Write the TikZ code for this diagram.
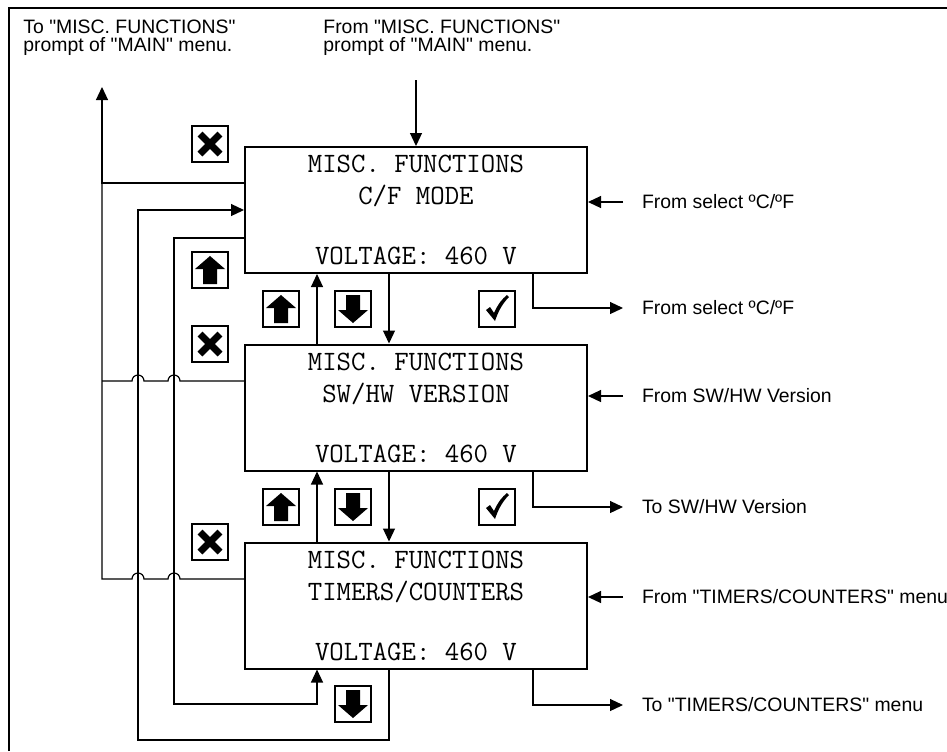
\documentclass[tikz,border=0pt]{standalone}
\usepackage{fontspec}
\setmainfont{Liberation Sans}[Ligatures=TeXOff]
\usetikzlibrary{arrows.meta}

\tikzset{
  screen/.style={draw, line width=1pt, minimum width=171pt, minimum height=63pt,
    inner sep=0pt, align=center, font=\ttfamily\fontsize{14}{16}\selectfont},
  conn/.style={line width=0.6pt},
  tip/.style={-{Triangle[length=6.5pt,width=6pt]}},
  note/.style={inner sep=0pt, outer xsep=9.5pt, anchor=west, font=\fontsize{9.7}{11}\selectfont},
  head/.style={inner sep=0pt, anchor=west, align=left, font=\fontsize{9.7}{9}\selectfont},
  key/.style={draw, line width=1pt, minimum size=18pt, inner sep=0pt},
  keyup/.style={key, path picture={
    \fill[shift={(path picture bounding box.center)}]
      (0,-14) -- (15,-1) -- (7,-1) -- (7,14) -- (-7,14) -- (-7,-1) -- (-15,-1) -- cycle;}},
  keydown/.style={key, path picture={
    \fill[shift={(path picture bounding box.center)}]
      (0,14) -- (15,1) -- (7,1) -- (7,-14) -- (-7,-14) -- (-7,1) -- (-15,1) -- cycle;}},
  keyesc/.style={key, path picture={
    \draw[shift={(path picture bounding box.center)}, line width=3.5pt]
      (-10,-10) -- (10,10) (-10,10) -- (10,-10);}},
  keyok/.style={key, path picture={
    \fill[shift={(path picture bounding box.center)}]
      (-11,1) -- (-7,-2) -- (-3,4) .. controls (1,-5) and (5,-10) .. (10,-14)
      -- (12,-12) .. controls (5,-5) and (1,3) .. (-2,12) -- cycle;}},
}

\begin{document}
\begin{tikzpicture}[x=0.5pt, y=-0.5pt]
  \useasboundingbox (0,0) rectangle (947,751);
  \draw[line width=1.2pt] (9,751) -- (9,8) -- (947,8);

  % screens
  \node[screen] (cfmode) at (416,210) {MISC. FUNCTIONS\\C/F MODE\\[14pt]VOLTAGE: 460 V};
  \node[screen] (swhw) at (416,407.5) {MISC. FUNCTIONS\\SW/HW VERSION\\[14pt]VOLTAGE: 460 V};
  \node[screen] (timers) at (416,605.5) {MISC. FUNCTIONS\\TIMERS/COUNTERS\\[14pt]VOLTAGE: 460 V};

  % keys
  \node[keyesc] (escA) at (210,144) {};
  \node[keyup] (upA) at (210,270) {};
  \node[keyup] (up1) at (281,309) {};
  \node[keydown] (dn1) at (353,309) {};
  \node[keyok] (ok1) at (497,309) {};
  \node[keyesc] (escB) at (210,344) {};
  \node[keyup] (up2) at (281,507) {};
  \node[keydown] (dn2) at (353,507) {};
  \node[keyok] (ok2) at (497,507) {};
  \node[keyesc] (escC) at (210,542) {};
  \node[keydown] (dn3) at (353,704) {};

  % texts
  \node[head] (tomain) at (23,38) {To "MISC. FUNCTIONS"\\prompt of "MAIN" menu.};
  \node[head] (frommain) at (323,38) {From "MISC. FUNCTIONS"\\prompt of "MAIN" menu.};
  \node[note] (fsel1) at (623,202) {From select ºC/ºF};
  \node[note] (fsel2) at (623,308) {From select ºC/ºF};
  \node[note] (fver) at (623,396) {From SW/HW Version};
  \node[note] (tver) at (623,507) {To SW/HW Version};
  \node[note] (ftc) at (623,597) {From "TIMERS/COUNTERS" menu};
  \node[note] (ttc) at (623,705) {To "TIMERS/COUNTERS" menu};

  \coordinate (entry) at (416,80);
  \coordinate (exit) at (102,87);

  % main menu in and out
  \draw[conn,tip] (entry) -- (cfmode.north);
  \draw[conn,tip] ([yshift=13.5pt]cfmode.west) -| (exit);
  \draw[conn] ([yshift=13.25pt]swhw.west) -- (180,381) arc (0:-180:6) -- (144,381)
    arc (0:-180:6) -- (102,381);
  \draw[conn] ([yshift=13.25pt]timers.west) -- (180,579) arc (0:-180:6) -- (144,579)
    arc (0:-180:6) -- (102,579) -- (102,183);

  % up / down between screens
  \draw[conn,tip] ([xshift=-13.5pt]cfmode.south) -- ([xshift=-13.5pt]swhw.north);
  \draw[conn,tip] ([xshift=-49.5pt]swhw.north) -- ([xshift=-49.5pt]cfmode.south);
  \draw[conn,tip] ([xshift=-13.5pt]swhw.south) -- ([xshift=-13.5pt]timers.north);
  \draw[conn,tip] ([xshift=-49.5pt]timers.north) -- ([xshift=-49.5pt]swhw.south);

  % wrap round
  \draw[conn,tip] ([xshift=-13.5pt]timers.south) |- (138,740) |- (cfmode.west);
  \draw[conn,tip] ([yshift=-14pt]cfmode.west) -| (174,704) -| ([xshift=-49.5pt]timers.south);

  % right side
  \draw[conn,tip] (fsel1.west) -- (fsel1.west -| cfmode.east);
  \draw[conn,tip] ([xshift=58.5pt]cfmode.south) |- (fsel2.west);
  \draw[conn,tip] (fver.west) -- (fver.west -| swhw.east);
  \draw[conn,tip] ([xshift=58.5pt]swhw.south) |- (tver.west);
  \draw[conn,tip] (ftc.west) -- (ftc.west -| timers.east);
  \draw[conn,tip] ([xshift=58.5pt]timers.south) |- (ttc.west);
\end{tikzpicture}
\end{document}
